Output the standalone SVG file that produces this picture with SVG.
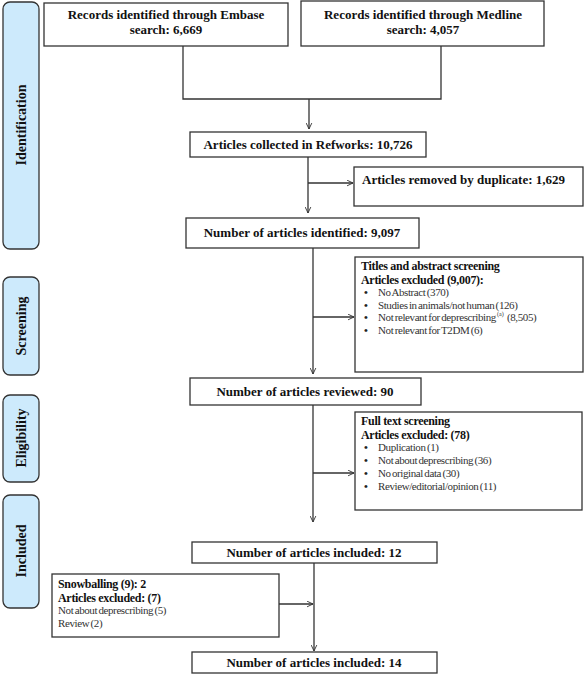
<svg xmlns="http://www.w3.org/2000/svg" width="584" height="675" viewBox="0 0 584 675">
<defs>
<marker id="arr" viewBox="0 0 10 10" refX="9.5" refY="5" markerWidth="7" markerHeight="7" markerUnits="userSpaceOnUse" orient="auto">
<path d="M1,1 L9.5,5 L1,9" fill="none" stroke="#333" stroke-width="1.3"/>
</marker>
</defs>
<style>
.box{fill:#fff;stroke:#333;stroke-width:1.3}
.side{fill:#cdeafc;stroke:#333;stroke-width:1.3}
.b{font-family:"Liberation Serif","Times New Roman",serif;font-weight:bold;font-size:13px;fill:#111}
.h{font-family:"Liberation Serif","Times New Roman",serif;font-weight:bold;font-size:12px;letter-spacing:-0.3px;fill:#111}
.c{text-anchor:middle}
.r{font-family:"Liberation Serif","Times New Roman",serif;font-size:11px;letter-spacing:-0.4px;word-spacing:-1px;fill:#333}
.bu{font-family:"Liberation Serif","Times New Roman",serif;font-size:11px;font-weight:bold;fill:#222}
.sup{font-family:"Liberation Serif","Times New Roman",serif;font-size:6px;fill:#333}
.sl{font-family:"Liberation Serif","Times New Roman",serif;font-weight:bold;font-size:14px;fill:#111;text-anchor:middle}
.ln{fill:none;stroke:#333;stroke-width:1.3}
</style>
<rect width="584" height="675" fill="#fff"/>

<g id="stage-identification"><rect class="side" x="3" y="2" width="36" height="247" rx="7"/><text class="sl" transform="translate(26,125) rotate(-90)">Identification</text></g>
<g id="stage-screening"><rect class="side" x="3" y="277" width="36" height="98" rx="7"/><text class="sl" transform="translate(26,326) rotate(-90)">Screening</text></g>
<g id="stage-eligibility"><rect class="side" x="3" y="395" width="36" height="87" rx="7"/><text class="sl" transform="translate(26,438) rotate(-90)">Eligibility</text></g>
<g id="stage-included"><rect class="side" x="3" y="495" width="36" height="113" rx="7"/><text class="sl" transform="translate(26,551) rotate(-90)">Included</text></g>

<g id="embase"><rect class="box" x="44" y="3" width="244" height="43"/>
<text class="b c" x="166" y="19">Records identified through Embase</text>
<text class="b c" x="166" y="34">search: 6,669</text></g>
<g id="medline"><rect class="box" x="301" y="1" width="243" height="45"/>
<text class="b c" x="423" y="19">Records identified through Medline</text>
<text class="b c" x="423" y="34">search: 4,057</text></g>
<g id="refworks"><rect class="box" x="190" y="132" width="236" height="25"/>
<text class="b c" x="308" y="149">Articles collected in Refworks: 10,726</text></g>
<g id="removed"><rect class="box" x="354" y="167" width="229" height="39"/>
<text class="b" x="362" y="184">Articles removed by duplicate: 1,629</text></g>
<g id="identified"><rect class="box" x="186" y="218" width="233" height="30"/>
<text class="b c" x="302" y="237">Number of articles identified: 9,097</text></g>
<g id="titles"><rect class="box" x="355" y="257" width="228" height="115"/>
<text class="h" x="361" y="270">Titles and abstract screening</text>
<text class="h" x="361" y="283.5">Articles excluded (9,007):</text>
<g class="bu"><text x="364" y="296">•</text><text x="364" y="308.5">•</text><text x="364" y="321">•</text><text x="364" y="333.5">•</text></g>
<g class="r"><text x="378" y="296">No Abstract (370)</text>
<text x="378" y="308.5">Studies in animals/not human (126)</text>
<text x="378" y="321">Not relevant for deprescribing</text>
<text x="378" y="333.5">Not relevant for T2DM (6)</text></g>
<text class="sup" x="497" y="316">(a)</text>
<text class="r" x="507" y="321">(8,505)</text></g>
<g id="reviewed"><rect class="box" x="190" y="378" width="231" height="27"/>
<text class="b c" x="305" y="396">Number of articles reviewed: 90</text></g>
<g id="fulltext"><rect class="box" x="355" y="412" width="227" height="98"/>
<text class="h" x="361" y="425">Full text screening</text>
<text class="h" x="361" y="438.5">Articles excluded: (78)</text>
<g class="bu"><text x="364" y="451">•</text><text x="364" y="464">•</text><text x="364" y="477">•</text><text x="364" y="490">•</text></g>
<g class="r"><text x="378" y="451">Duplication (1)</text>
<text x="378" y="464">Not about deprescribing (36)</text>
<text x="378" y="477">No original data (30)</text>
<text x="378" y="490">Review/editorial/opinion (11)</text></g></g>
<g id="included12"><rect class="box" x="192" y="542" width="245" height="21"/>
<text class="b c" x="314" y="557">Number of articles included: 12</text></g>
<g id="snowball"><rect class="box" x="52" y="574" width="227" height="63"/>
<text class="h" x="58" y="588">Snowballing (9): 2</text>
<text class="h" x="58" y="601.5">Articles excluded: (7)</text>
<text class="r" x="58" y="614">Not about deprescribing (5)</text>
<text class="r" x="58" y="627">Review (2)</text></g>
<g id="included14"><rect class="box" x="192" y="652" width="245" height="21"/>
<text class="b c" x="314" y="667">Number of articles included: 14</text></g>

<g id="connectors">
<path class="ln" d="M183,46 V99 H441 V46"/>
<path class="ln" d="M309,99 V129" marker-end="url(#arr)"/>
<path class="ln" d="M308,157 V213" marker-end="url(#arr)"/>
<path class="ln" d="M308,183 H353" marker-end="url(#arr)"/>
<path class="ln" d="M313,248 V374" marker-end="url(#arr)"/>
<path class="ln" d="M313,317 H354" marker-end="url(#arr)"/>
<path class="ln" d="M313,405 V522" marker-end="url(#arr)"/>
<path class="ln" d="M313,473 H354" marker-end="url(#arr)"/>
<path class="ln" d="M314,563 V651" marker-end="url(#arr)"/>
<path class="ln" d="M279,604 H313" marker-end="url(#arr)"/>
</g>
</svg>
